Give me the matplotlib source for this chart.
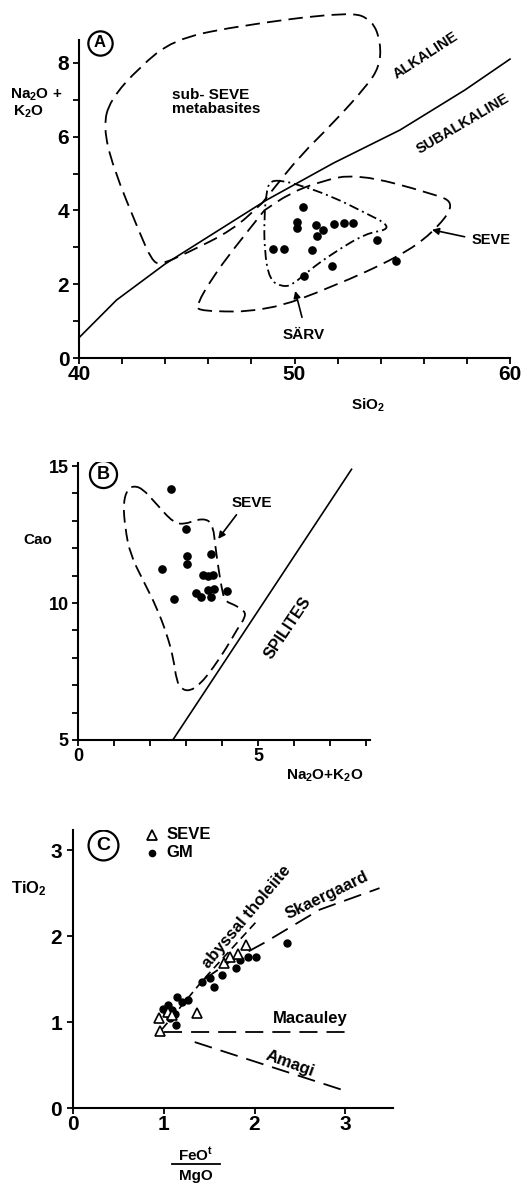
import matplotlib
matplotlib.use('Agg')
import matplotlib.pyplot as plt
from matplotlib.path import Path
from matplotlib.patches import PathPatch

plt.rcParams['font.family'] = ['Liberation Sans', 'DejaVu Sans']
plt.rcParams['font.weight'] = 'bold'
plt.rcParams['mathtext.fontset'] = 'custom'
plt.rcParams['mathtext.rm'] = 'Liberation Sans:bold'
plt.rcParams['mathtext.it'] = 'Liberation Sans:bold'
plt.rcParams['mathtext.bf'] = 'Liberation Sans:bold'

# ---------------- Panel A data ----------------
alk_x = [40, 41.74, 44.0, 48.7, 51.8, 54.9, 57.9, 60]
alk_y = [0.55, 1.57, 2.55, 4.28, 5.28, 6.18, 7.26, 8.1]

subseve_x = [41.13, 41.44, 42.82, 44.37, 47.14, 52.55, 53.62, 54.01, 53.94, 53.32,
             51.78, 50.23, 48.98, 48.5, 48.5, 47.14, 44.99, 43.75, 43.37, 42.82, 41.57, 41.13]
subseve_y = [6.27, 6.99, 7.89, 8.62, 8.98, 9.39, 9.16, 8.53, 7.89, 7.35,
             6.36, 5.46, 4.55, 4.2, 4.2, 3.47, 2.84, 2.52, 2.66, 3.38, 5.18, 6.27]

seveA_x = [45.45, 45.6, 48.69, 51.78, 54.86, 56.4, 57.5, 56.4, 52.9, 51.16, 49.77,
           48.6, 48.6, 47.14, 46.22, 45.45]
seveA_y = [1.44, 1.26, 1.26, 1.93, 2.75, 3.38, 4.19, 4.46, 5.0, 4.78, 4.46,
           4.0, 4.0, 2.93, 2.2, 1.44]

sarv_x = [48.84, 49.3, 50.23, 51.78, 53.32, 54.24, 54.3, 53.32, 51.78, 50.69, 49.9,
          49.44, 48.84, 48.6, 48.6, 48.69, 48.84]
sarv_y = [4.78, 4.82, 4.69, 4.37, 3.92, 3.65, 3.47, 3.38, 2.84, 2.38, 1.98,
          1.93, 2.11, 2.93, 3.83, 4.46, 4.78]

ptsA_sio2 = [50.38, 50.12, 50.12, 51.0, 51.34, 51.85, 52.31, 52.70, 51.03, 49.0,
             49.5, 50.80, 53.83, 51.73, 50.42, 54.71]
ptsA_alk = [4.10, 3.69, 3.51, 3.60, 3.47, 3.63, 3.65, 3.65, 3.31, 2.95,
            2.95, 2.93, 3.20, 2.50, 2.22, 2.63]

xticksA = [40, 42, 44, 46, 48, 50, 52, 54, 56, 58, 60]
xlabA = ['40', '', '', '', '', '50', '', '', '', '', '60']
yticksA = [0, 1, 2, 3, 4, 5, 6, 7, 8]
ylabA = ['0', '', '2', '', '4', '', '6', '', '8']

# ---------------- Panel B data ----------------
seveB_x = [1.48, 1.76, 2.18, 2.64, 2.96, 3.29, 3.61, 3.75, 3.80, 3.89, 3.98, 4.07,
           4.31, 4.63, 4.63, 4.44, 4.12, 3.75, 3.38, 3.10, 2.87, 2.73, 2.64, 2.46,
           2.18, 1.81, 1.44, 1.30, 1.25, 1.34, 1.48]
seveB_y = [14.27, 14.21, 13.60, 12.93, 12.87, 13.05, 13.05, 12.75, 12.14, 11.29,
           10.56, 10.07, 9.95, 9.71, 9.46, 9.10, 8.37, 7.64, 7.03, 6.79, 6.85,
           7.15, 8.0, 8.86, 9.83, 10.80, 11.78, 12.75, 13.60, 14.09, 14.27]

spil_x = [2.64, 7.59]
spil_y = [5.03, 14.88]

ptsB_alk = [2.57, 2.98, 3.01, 3.01, 2.32, 3.68, 3.47, 3.61, 3.75, 2.66, 3.27,
            3.41, 3.59, 3.77, 3.68, 4.14]
ptsB_cao = [14.17, 12.69, 11.72, 11.41, 11.23, 11.80, 11.01, 11.0, 11.04, 10.16,
            10.38, 10.22, 10.47, 10.50, 10.22, 10.44]

xticksB = [0, 1, 2, 3, 4, 5, 6, 7, 8]
xlabB = ['0', '', '', '', '', '5', '', '', '']
yticksB = [5, 6, 7, 8, 9, 10, 11, 12, 13, 14, 15]
ylabB = ['5', '', '', '', '', '10', '', '', '', '', '15']

# ---------------- Panel C data ----------------
abyss_x = [0.98, 1.43, 2.02]
abyss_y = [0.92, 1.49, 2.17]
skaer_x = [1.43, 1.75, 2.1, 2.72, 3.38]
skaer_y = [1.49, 1.72, 1.92, 2.31, 2.56]
macau_x = [1.0, 3.0]
macau_y = [0.89, 0.89]
amagi_x = [1.34, 3.04]
amagi_y = [0.77, 0.19]

gm_x = [0.99, 1.03, 1.09, 1.14, 1.20, 1.27, 1.13, 1.07, 1.05, 1.12, 1.42, 1.51,
        1.55, 1.64, 1.80, 1.84, 1.93, 2.02, 2.36]
gm_y = [1.16, 1.11, 1.14, 1.29, 1.24, 1.26, 0.97, 1.05, 1.20, 1.10, 1.47, 1.51,
        1.41, 1.55, 1.63, 1.72, 1.76, 1.76, 1.92]
seveC_x = [0.95, 0.96, 1.05, 1.09, 1.36, 1.66, 1.73, 1.82, 1.91]
seveC_y = [1.05, 0.90, 1.12, 1.08, 1.11, 1.69, 1.76, 1.80, 1.90]

xticksC = [0, 1, 2, 3]
yticksC = [0, 1, 2, 3]

W, H = 527, 1185
fig = plt.figure(figsize=(W / 100, H / 100), dpi=100)


def style_axes(ax, xb, yb, lsize, xpad, ypad):
    for s in ('top', 'right'):
        ax.spines[s].set_visible(False)
    ax.spines['left'].set_bounds(*yb)
    ax.spines['bottom'].set_bounds(*xb)
    for s in ('left', 'bottom'):
        ax.spines[s].set_linewidth(1.5)
    ax.tick_params(direction='out', length=4, width=1.3, labelsize=lsize)
    ax.tick_params(axis='x', pad=xpad)
    ax.tick_params(axis='y', pad=ypad)
    for lab in ax.get_xticklabels() + ax.get_yticklabels():
        lab.set_fontweight('bold')


def smooth_closed(ax, xs, ys, **kw):
    """Closed outline drawn as a quadratic-Bezier path through the traced vertices."""
    pts = list(zip(xs, ys))
    if pts[0] == pts[-1]:
        pts = pts[:-1]
    n = len(pts)
    mids = [((pts[i][0] + pts[(i + 1) % n][0]) / 2, (pts[i][1] + pts[(i + 1) % n][1]) / 2)
            for i in range(n)]
    verts = [mids[0]]
    codes = [Path.MOVETO]
    for i in range(1, n + 1):
        verts += [pts[i % n], mids[i % n]]
        codes += [Path.CURVE3, Path.CURVE3]
    ax.add_patch(PathPatch(Path(verts, codes), fill=False, edgecolor='black', **kw))


# ================= Panel A =================
axA = fig.add_axes([79 / W, 1 - 358 / H, 431 / W, 358 / H])
axA.set_xlim(40, 60)
axA.set_ylim(0, 358 / 36.9)
axA.set_xticks(xticksA, xlabA)
axA.set_yticks(yticksA, ylabA)
style_axes(axA, (40, 60), (0, 8.62), 15, 1, 3)
axA.patch.set_alpha(0)

axA.plot(alk_x, alk_y, color='black', lw=1.2, clip_on=False)
smooth_closed(axA, subseve_x, subseve_y, lw=1.3, ls=(0, (8, 4)))
smooth_closed(axA, seveA_x, seveA_y, lw=1.3, ls=(0, (8, 4)))
smooth_closed(axA, sarv_x, sarv_y, lw=1.3, ls=(0, (5.5, 2.2, 1.1, 2.2)))
axA.plot(ptsA_sio2, ptsA_alk, 'o', color='black', ms=5.2)

axA.plot([40.97], [8.54], 'o', mfc='white', mec='black', mew=1.6, ms=17.5)
axA.text(40.97, 8.54, 'A', ha='center', va='center', fontsize=12, fontweight='bold')
axA.text(44.31, 6.94, 'sub- SEVE\nmetabasites', ha='left', va='center', fontsize=11,
         fontweight='bold', linespacing=1.05)
axA.text(56.09, 8.21, 'ALKALINE', rotation=33, ha='center', va='center', fontsize=10.5,
         fontweight='bold', rotation_mode='anchor')
axA.text(57.79, 6.34, 'SUBALKALINE', rotation=30.5, ha='center', va='center',
         fontsize=10.5, fontweight='bold', rotation_mode='anchor')
axA.text(59.1, 3.2, 'SEVE', ha='center', va='center', fontsize=10.5, fontweight='bold')
axA.annotate('', xy=(56.25, 3.49), xytext=(58.02, 3.27),
             arrowprops=dict(arrowstyle='-|>', lw=1.2, color='black', mutation_scale=10))
axA.text(50.42, 0.62, 'SÄRV', ha='center', va='center', fontsize=11, fontweight='bold')
axA.annotate('', xy=(50.0, 1.89), xytext=(50.38, 1.03),
             arrowprops=dict(arrowstyle='-|>', lw=1.2, color='black', mutation_scale=10))

fig.text(36 / W, 1 - 95 / H, 'Na$_2$O +', ha='center', va='center', fontsize=11,
         fontweight='bold')
fig.text(28 / W, 1 - 112 / H, 'K$_2$O', ha='center', va='center', fontsize=11,
         fontweight='bold')
fig.text(368 / W, 1 - 405 / H, 'SiO$_2$', ha='center', va='center', fontsize=11,
         fontweight='bold')

# ================= Panel B =================
axB = fig.add_axes([78.3 / W, 1 - 740 / H, (370 - 78.3) / W, (740 - 462) / H])
axB.set_xlim(0, (370 - 78.3) / 36.0)
axB.set_ylim(5, 5 + (740 - 462) / 27.4)
axB.set_xticks(xticksB, xlabB)
axB.set_yticks(yticksB, ylabB)
style_axes(axB, (0, 8.1), (5, 15.1), 13, 2, 3)
axB.patch.set_alpha(0)

smooth_closed(axB, seveB_x, seveB_y, lw=1.3, ls=(0, (7, 3.5)))
axB.plot(spil_x, spil_y, color='black', lw=1.2)
axB.plot(ptsB_alk, ptsB_cao, 'o', color='black', ms=5.2)

axB.plot([0.69], [14.70], 'o', mfc='white', mec='black', mew=1.6, ms=19.5)
axB.text(0.69, 14.70, 'B', ha='center', va='center', fontsize=13, fontweight='bold')
axB.text(4.82, 13.65, 'SEVE', ha='center', va='center', fontsize=11, fontweight='bold')
axB.annotate('', xy=(3.84, 12.26), xytext=(4.44, 13.3),
             arrowprops=dict(arrowstyle='-|>', lw=1.2, color='black', mutation_scale=10))
axB.text(5.83, 9.10, 'SPILITES', rotation=56, ha='center', va='center', fontsize=11.5,
         fontweight='bold', rotation_mode='anchor')

fig.text(38 / W, 1 - 540 / H, 'Cao', ha='center', va='center', fontsize=11,
         fontweight='bold')
fig.text(325 / W, 1 - 776 / H, 'Na$_2$O+K$_2$O', ha='center', va='center', fontsize=11,
         fontweight='bold')

# ================= Panel C =================
axC = fig.add_axes([73.3 / W, 1 - 1108.3 / H, (393 - 73.3) / W, (1108.3 - 830) / H])
axC.set_xlim(0, (393 - 73.3) / 90.6)
axC.set_ylim(0, (1108.3 - 830) / 86.0)
axC.set_xticks(xticksC, [str(v) for v in xticksC])
axC.set_yticks(yticksC, [str(v) for v in yticksC])
style_axes(axC, (0, (393 - 73.3) / 90.6), (0, (1108.3 - 830) / 86.0), 15, 1, 4)
axC.patch.set_alpha(0)

axC.plot(abyss_x, abyss_y, color='black', lw=1.2, ls=(0, (5, 3)))
axC.plot(skaer_x, skaer_y, color='black', lw=1.3, ls=(0, (10, 5)))
axC.plot(macau_x, macau_y, color='black', lw=1.3, ls=(0, (10, 5)))
axC.plot(amagi_x, amagi_y, color='black', lw=1.3, ls=(0, (10, 5)))
axC.plot(gm_x, gm_y, 'o', color='black', ms=5)
axC.plot(seveC_x, seveC_y, '^', mfc='white', mec='black', mew=1.2, ms=7)

axC.plot([0.33], [3.06], 'o', mfc='white', mec='black', mew=1.6, ms=21.5)
axC.text(0.33, 3.06, 'C', ha='center', va='center', fontsize=14, fontweight='bold')
axC.plot([0.87], [3.18], '^', mfc='white', mec='black', mew=1.3, ms=6.5, clip_on=False)
axC.plot([0.87], [2.97], 'o', color='black', ms=4.5, clip_on=False)
axC.text(1.03, 3.18, 'SEVE', ha='left', va='center', fontsize=12, fontweight='bold')
axC.text(1.03, 2.97, 'GM', ha='left', va='center', fontsize=12, fontweight='bold')

axC.text(1.91, 2.23, 'abyssal tholeiite', rotation=50, ha='center', va='center',
         fontsize=12, fontweight='bold', rotation_mode='anchor')
axC.text(2.80, 2.48, 'Skaergaard', rotation=26, ha='center', va='center', fontsize=12,
         fontweight='bold', rotation_mode='anchor')
axC.text(2.61, 1.05, 'Macauley', ha='center', va='center', fontsize=12, fontweight='bold')
axC.text(2.39, 0.52, 'Amagi', rotation=-20, ha='center', va='center', fontsize=12,
         fontweight='bold', rotation_mode='anchor')

fig.text(29 / W, 1 - 889 / H, 'TiO$_2$', ha='center', va='center', fontsize=12,
         fontweight='bold')
fig.text(196 / W, 1 - 1155 / H, 'FeO$^t$', ha='center', va='center', fontsize=11,
         fontweight='bold')
fig.add_artist(plt.Line2D([172 / W, 220 / W], [1 - 1164 / H, 1 - 1164 / H],
                          color='black', lw=1.3))
fig.text(196 / W, 1 - 1176 / H, 'MgO', ha='center', va='center', fontsize=11,
         fontweight='bold')

fig.savefig('out.png', dpi=100)
